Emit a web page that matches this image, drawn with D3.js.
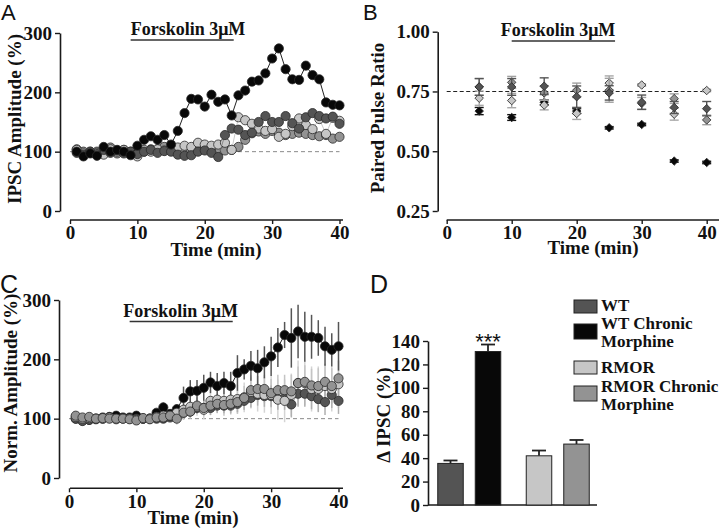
<!DOCTYPE html>
<html><head><meta charset="utf-8">
<script src="https://cdn.jsdelivr.net/npm/d3@7"></script>
<style>
body{margin:0;background:#fff;}
text{font-family:'Liberation Serif','Times New Roman',serif;font-weight:bold;fill:#111;}
.letter{font-family:'Liberation Sans',Arial,sans-serif;font-weight:normal;}
</style></head><body>
<script>
// ---------- DATA ----------
const time = [1,2,3,4,5,6,7,8,9,10,11,12,13,14,15,16,17,18,19,20,21,22,23,24,25,26,27,28,29,30,31,32,33,34,35,36,37,38,39,40];
const timeTicks = [0,10,20,30,40];
const drugLabel = "Forskolin 3\u03BCM";

// Panel A (single experiments, % amplitude)
const A_WT     = [98,95,100,96,103,98,102,97,100,96,100,103,98,101,100,95,93,94,100,102,98,91,128,139,137,128,132,150,160,150,150,160,148,139,158,165,160,156,159,147];
const A_WTCM   = [100,92,97,93,108,100,103,100,94,110,120,126,120,128,112,135,165,189,188,176,196,184,188,161,195,203,218,220,232,257,274,239,222,221,245,229,222,183,179,178];
const A_RMOR   = [103,97,100,98,95,104,100,103,98,92,103,100,104,102,104,107,110,108,115,112,110,112,115,103,158,153,147,139,135,138,125,130,143,156,145,138,155,130,157,152];
const A_RMORCM = [104,100,98,100,102,107,97,103,100,102,100,104,104,108,105,102,103,102,108,104,100,98,102,103,108,120,131,134,130,135,132,128,130,132,130,128,126,128,122,125];
const A_ticks = [0,100,200,300];

// Panel B (paired pulse ratio)
const timeB = [5,10,15,20,25,30,35,40];
const B_ticks = [0.25,0.50,0.75,1.00];
const B_WT       = [0.769,0.769,0.772,0.728,0.744,0.705,0.683,0.678];
const B_WT_err   = [0.035,0.035,0.035,0.045,0.03,0.03,0.025,0.03];
const B_WTCM     = [0.668,0.641,0.705,0.668,0.598,0.612,0.459,0.453];
const B_WTCM_err = [0.015,0.012,0.01,0.01,0.005,0.005,0.005,0.005];
const B_RMOR     = [0.722,0.712,0.693,0.658,0.785,0.777,0.655,0.754];
const B_RMOR_err = [0.03,0.03,0.02,0.025,0.03,0.005,0.025,0.005];
const B_RMORCM   = [0.769,0.788,0.744,0.755,0.755,0.700,0.720,0.631];
const B_RMORCM_err = [0.035,0.025,0.03,0.03,0.05,0.025,0.02,0.02];

// Panel C (normalized mean ± SEM)
const C_WT       = [100,96,98,99,100,101,100,101,100,100,100,100,100,100,102,105,110,112,118,118,118,122,122,122,125,130,135,140,138,138,133,135,124,142,142,138,133,128,140,130];
const C_WT_err   = [3,3,3,3,3,3,3,3,3,3,3,3,5,5,6,7,9,10,10,12,12,12,13,13,14,15,16,18,18,18,18,20,22,22,22,22,22,22,22,22];
const C_WTCM     = [100,97,98,100,102,103,105,102,102,105,100,100,110,119,108,116,135,146,147,152,161,155,160,155,177,183,189,185,195,205,220,241,236,247,238,238,236,222,216,222];
const C_WTCM_err = [3,3,3,3,3,3,3,3,3,3,4,4,6,8,7,8,19,19,18,22,18,22,19,24,30,17,25,31,27,33,33,22,50,45,42,37,30,33,28,41];
const C_RMOR     = [103,100,101,100,100,102,99,100,100,98,100,100,103,105,105,110,115,120,120,115,130,132,130,132,133,136,145,142,140,140,132,130,140,160,160,150,150,155,150,158];
const C_RMOR_err = [3,3,3,3,3,3,3,3,3,3,4,4,6,7,8,10,12,14,15,16,18,20,20,22,24,25,28,30,30,32,34,36,36,38,38,38,38,38,38,40];
const C_RMORCM   = [105,102,103,100,101,100,100,100,99,97,101,99,102,102,105,100,110,112,122,118,122,125,123,125,128,135,148,150,150,143,148,148,146,160,162,156,155,162,155,168];
const C_RMORCM_err = [3,3,3,3,3,3,3,3,3,3,4,4,6,7,8,10,12,12,14,14,16,16,18,18,20,20,22,22,24,24,26,26,28,28,28,28,30,30,30,30];

// Panel D (bars)
const groups = ["WT","RMOR"];
const treatments = ["Control","Chronic Morphine"];
const D_labels = ["WT","WT Chronic Morphine","RMOR","RMOR Chronic Morphine"];
const D_values = [35.5,131,42,52];
const D_errors = [2.5,6,4.5,3.5];
const D_ticks = [0,20,40,60,80,100,120,140];

const colors = {WT:"#545454", WTCM:"#080808", RMOR:"#c6c6c6", RMORCM:"#939393"};

// ---------- DRAW ----------
const svg = d3.select("body").append("svg").attr("width",720).attr("height",528);
const AX = "#1a1a1a";

function yAxis(scale, x, ticks, fmt){
  const g = svg.append("g").attr("transform",`translate(${x},0)`)
    .call(d3.axisLeft(scale).tickValues(ticks).tickFormat(fmt).tickSize(5).tickPadding(3).tickSizeOuter(0));
  g.select(".domain").attr("stroke",AX).attr("stroke-width",1.6);
  g.selectAll(".tick line").attr("stroke",AX).attr("stroke-width",1.4);
  g.selectAll(".tick text").style("font-size","19px").attr("fill","#111");
  return g;
}
function xAxis(scale, y, ticks, x0, x1){
  const g = svg.append("g").attr("transform",`translate(0,${y})`)
    .call(d3.axisBottom(scale).tickValues(ticks).tickSize(4).tickPadding(2).tickSizeOuter(0));
  g.select(".domain").remove();
  g.append("line").attr("x1",x0).attr("x2",x1).attr("stroke",AX).attr("stroke-width",1.6);
  g.selectAll(".tick line").attr("stroke",AX).attr("stroke-width",1.4);
  g.selectAll(".tick text").style("font-size","19px").attr("fill","#111").attr("dy","0.7em");
  return g;
}
function label(txt,x,y,size,rot,anchor){
  const t = svg.append("text").attr("x",x).attr("y",y).text(txt)
    .style("font-size",size+"px").attr("text-anchor",anchor||"middle");
  if(rot) t.attr("transform",`rotate(-90,${x},${y})`);
  return t;
}
function letter(txt,x,y,size){
  svg.append("text").attr("class","letter").attr("x",x).attr("y",y).text(txt).style("font-size",size+"px");
}
function drug(xs, cx, baseY, t0, t1){
  label(drugLabel,cx,baseY,18);
  svg.append("line").attr("x1",xs(t0)).attr("x2",xs(t1)).attr("y1",baseY+5).attr("y2",baseY+5)
    .attr("stroke","#333").attr("stroke-width",1.3);
}
function circles(xs, ys, vals, color, lineColor, lw){
  const pts = time.map((t,i)=>[xs(t),ys(vals[i])]);
  svg.append("path").attr("d",d3.line()(pts)).attr("fill","none").attr("stroke",lineColor).attr("stroke-width",lw);
  svg.append("g").selectAll("circle").data(pts).join("circle")
    .attr("cx",d=>d[0]).attr("cy",d=>d[1]).attr("r",4.6)
    .attr("fill",color).attr("stroke","#2a2a2a").attr("stroke-width",0.8);
}

// ===== Panel A =====
const xA = d3.scaleLinear().domain([0,40]).range([70,339.5]);
const yA = d3.scaleLinear().domain([0,300]).range([211,33]);
letter("A",1,20,22);
yAxis(yA,60,A_ticks,d3.format("d"));
xAxis(xA,220,timeTicks,70,343);
label("IPSC Amplitude (%)",21,119,19,true);
label("Time (min)",216,256,19);
drug(xA,188,35,9,24.3);
svg.append("line").attr("x1",xA(0)).attr("x2",xA(40)).attr("y1",yA(100)).attr("y2",yA(100))
  .attr("stroke","#8a8a8a").attr("stroke-width",1).attr("stroke-dasharray","4,3");
circles(xA,yA,A_RMORCM,colors.RMORCM,"#aaa",0.8);
circles(xA,yA,A_RMOR,colors.RMOR,"#bbb",0.8);
circles(xA,yA,A_WT,colors.WT,"#777",0.8);
circles(xA,yA,A_WTCM,colors.WTCM,"#222",1);

// ===== Panel B =====
const xB = d3.scaleLinear().domain([0,40]).range([446.7,706.7]);
const yB = d3.scaleLinear().domain([0.25,1]).range([211,31.7]);
letter("B",363,20,22);
yAxis(yB,437.7,B_ticks,d3.format(".2f"));
xAxis(xB,220,timeTicks,446.7,719);
label("Paired Pulse Ratio",384,118,19,true);
label("Time (min)",593,254,19);
drug(xB,558,36,10,25.9);
svg.append("line").attr("x1",xB(0)).attr("x2",xB(40)).attr("y1",yB(0.75)).attr("y2",yB(0.75))
  .attr("stroke","#222").attr("stroke-width",1.1).attr("stroke-dasharray","4,2.5");
function diamonds(vals, errs, color, errColor){
  const g = svg.append("g");
  timeB.forEach((t,i)=>{
    const x=xB(t), y1=yB(vals[i]-errs[i]), y2=yB(vals[i]+errs[i]);
    g.append("line").attr("x1",x).attr("x2",x).attr("y1",y1).attr("y2",y2).attr("stroke",errColor).attr("stroke-width",1.4);
    [y1,y2].forEach(yy=>g.append("line").attr("x1",x-4.5).attr("x2",x+4.5).attr("y1",yy).attr("y2",yy).attr("stroke",errColor).attr("stroke-width",1.4));
  });
  g.selectAll("path.d").data(timeB).join("path")
    .attr("d",d3.symbol(d3.symbolSquare,36))
    .attr("transform",(t,i)=>`translate(${xB(t)},${yB(vals[i])}) rotate(45)`)
    .attr("fill",color).attr("stroke","#2a2a2a").attr("stroke-width",0.8);
}
diamonds(B_WTCM,B_WTCM_err,colors.WTCM,"#111");
diamonds(B_RMOR,B_RMOR_err,colors.RMOR,"#a8a8a8");
diamonds(B_RMORCM,B_RMORCM_err,colors.RMORCM,"#a0a0a0");
diamonds(B_WT,B_WT_err,colors.WT,"#555");

// ===== Panel C =====
const xC = d3.scaleLinear().domain([0,40]).range([69,338.5]);
const yC = d3.scaleLinear().domain([0,300]).range([478,300]);
letter("C",0,293,25);
yAxis(yC,59,A_ticks,d3.format("d"));
xAxis(xC,488.3,timeTicks,70,343);
label("Norm. Amplitude (%)",17,383,19,true);
label("Time (min)",193,524,19);
drug(xC,180.7,316.5,9,24.3);
svg.append("line").attr("x1",xC(0)).attr("x2",xC(40)).attr("y1",yC(100)).attr("y2",yC(100))
  .attr("stroke","#8a8a8a").attr("stroke-width",1).attr("stroke-dasharray","4,3");
function errBars(vals, errs, color){
  svg.append("g").selectAll("line").data(time).join("line")
    .attr("x1",t=>xC(t)).attr("x2",t=>xC(t))
    .attr("y1",(t,i)=>yC(vals[i]-errs[i])).attr("y2",(t,i)=>yC(vals[i]+errs[i]))
    .attr("stroke",color).attr("stroke-width",1.5);
}
errBars(C_RMOR,C_RMOR_err,"#d4d4d4");
errBars(C_RMORCM,C_RMORCM_err,"#c4c4c4");
errBars(C_WT,C_WT_err,"#b0b0b0");
errBars(C_WTCM,C_WTCM_err,"#555");
circles(xC,yC,C_WTCM,colors.WTCM,"#222",1);
circles(xC,yC,C_WT,colors.WT,"#888",0.6);
circles(xC,yC,C_RMOR,colors.RMOR,"#bbb",0.6);
circles(xC,yC,C_RMORCM,colors.RMORCM,"#aaa",0.6);

// ===== Panel D =====
const yD = d3.scaleLinear().domain([0,140]).range([505,341]);
const xG = d3.scaleBand().domain(groups).range([425,602]).padding(0);
const xT = d3.scaleBand().domain(treatments).range([0,xG.bandwidth()]).paddingInner(0.32).paddingOuter(0.34);
letter("D",370,293,25);
yAxis(yD,428,D_ticks,d3.format("d"));
svg.append("line").attr("x1",428).attr("x2",597).attr("y1",yD(0)).attr("y2",yD(0)).attr("stroke",AX).attr("stroke-width",1.6);
label("\u0394 IPSC (%)",390,415,19,true);
const barData = D_values.map((v,i)=>({v, e:D_errors[i], g:groups[Math.floor(i/2)], t:treatments[i%2],
  c:[colors.WT,colors.WTCM,colors.RMOR,colors.RMORCM][i]}));
const bx = d=>xG(d.g)+xT(d.t);
const bw = xT.bandwidth();
const gD = svg.append("g");
barData.forEach(d=>{
  const cx = bx(d)+bw/2;
  gD.append("line").attr("x1",cx).attr("x2",cx).attr("y1",yD(d.v)).attr("y2",yD(d.v+d.e)).attr("stroke","#222").attr("stroke-width",1.8);
  gD.append("line").attr("x1",cx-7).attr("x2",cx+7).attr("y1",yD(d.v+d.e)).attr("y2",yD(d.v+d.e)).attr("stroke","#222").attr("stroke-width",1.8);
});
gD.selectAll("rect").data(barData).join("rect")
  .attr("x",bx).attr("width",bw).attr("y",d=>yD(d.v)).attr("height",d=>yD(0)-yD(d.v))
  .attr("fill",d=>d.c).attr("stroke","#222").attr("stroke-width",1);
svg.append("text").attr("x",bx(barData[1])+bw/2).attr("y",yD(D_values[1]+D_errors[1])+4)
  .attr("text-anchor","middle").style("font-size","22px").style("font-weight","normal")
  .style("font-family","'Liberation Sans',Arial,sans-serif").text("***");

// Legend
const legRows = [
  {c:colors.WT, lines:["WT"], sy:300, ty:[311]},
  {c:colors.WTCM, lines:["WT Chronic","Morphine"], sy:324, ty:[329,347]},
  {c:colors.RMOR, lines:["RMOR"], sy:361, ty:[372.5]},
  {c:colors.RMORCM, lines:["RMOR Chronic","Morphine"], sy:386, ty:[392,409.5]}
];
legRows.forEach(r=>{
  svg.append("rect").attr("x",574).attr("y",r.sy).attr("width",23).attr("height",r.lines.length>1?15:13)
    .attr("fill",r.c).attr("stroke","#222").attr("stroke-width",1);
  r.lines.forEach((l,j)=>svg.append("text").attr("x",601).attr("y",r.ty[j]).text(l).style("font-size","17px"));
});
</script>
</body></html>
